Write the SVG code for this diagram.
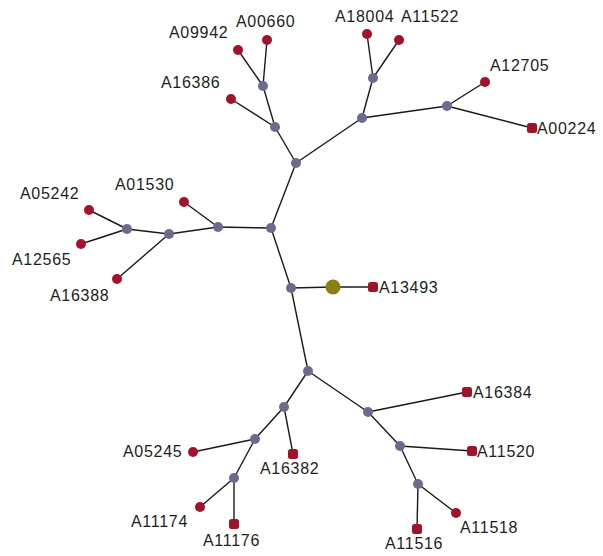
<svg xmlns="http://www.w3.org/2000/svg" width="603" height="556" viewBox="0 0 603 556">
  <style>
    .edge { stroke: #1a1a1a; stroke-width: 1.4; fill: none; }
    .hub { fill: #6b6b90; }
    .leaf { fill: #a1122b; }
    .root { fill: #8c7e10; }
    text { font-family: "Liberation Sans", Arial, sans-serif; font-size: 16px; letter-spacing: 0.7px; fill: #1e1e1e; }
  </style>
  <rect width="603" height="556" fill="#ffffff"/>

  <!-- connectors -->
  <g id="edges" class="edge">
    <!-- trunk -->
    <line x1="271" y1="228" x2="296" y2="163"/>
    <line x1="271" y1="228" x2="291" y2="288"/>
    <line x1="291" y1="288" x2="308" y2="371"/>
    <line x1="291" y1="288" x2="333" y2="287"/>
    <line x1="333" y1="287" x2="373" y2="287"/>
    <!-- upper branch -->
    <line x1="296" y1="163" x2="275" y2="127"/>
    <line x1="275" y1="127" x2="263" y2="86"/>
    <line x1="263" y1="86" x2="238" y2="50"/>
    <line x1="263" y1="86" x2="267" y2="40"/>
    <line x1="275" y1="127" x2="231" y2="99"/>
    <line x1="296" y1="163" x2="362" y2="118"/>
    <line x1="362" y1="118" x2="373" y2="78"/>
    <line x1="373" y1="78" x2="367" y2="34"/>
    <line x1="373" y1="78" x2="399" y2="40"/>
    <line x1="362" y1="118" x2="447" y2="106"/>
    <line x1="447" y1="106" x2="485" y2="82"/>
    <line x1="447" y1="106" x2="532" y2="128"/>
    <!-- left branch -->
    <line x1="271" y1="228" x2="218" y2="227"/>
    <line x1="218" y1="227" x2="184" y2="202"/>
    <line x1="218" y1="227" x2="169" y2="234"/>
    <line x1="169" y1="234" x2="127" y2="229"/>
    <line x1="127" y1="229" x2="89" y2="210"/>
    <line x1="127" y1="229" x2="81" y2="244"/>
    <line x1="169" y1="234" x2="117" y2="279"/>
    <!-- lower branch -->
    <line x1="308" y1="371" x2="284" y2="407"/>
    <line x1="284" y1="407" x2="293" y2="454"/>
    <line x1="284" y1="407" x2="255" y2="439"/>
    <line x1="255" y1="439" x2="193" y2="452"/>
    <line x1="255" y1="439" x2="234" y2="478"/>
    <line x1="234" y1="478" x2="200" y2="507"/>
    <line x1="234" y1="478" x2="234" y2="524"/>
    <line x1="308" y1="371" x2="368" y2="412"/>
    <line x1="368" y1="412" x2="467" y2="392"/>
    <line x1="368" y1="412" x2="400" y2="446"/>
    <line x1="400" y1="446" x2="472" y2="451"/>
    <line x1="400" y1="446" x2="418" y2="484"/>
    <line x1="418" y1="484" x2="456" y2="513"/>
    <line x1="418" y1="484" x2="417" y2="529"/>
  </g>

  <!-- internal nodes -->
  <g id="n-trunk-top"><circle class="hub" cx="296" cy="163" r="5"/></g>
  <g id="n-trunk-left"><circle class="hub" cx="271" cy="228" r="5"/></g>
  <g id="n-trunk-mid"><circle class="hub" cx="291" cy="288" r="5"/></g>
  <g id="n-trunk-low"><circle class="hub" cx="308" cy="371" r="5"/></g>
  <g id="n-up-a"><circle class="hub" cx="275" cy="127" r="5"/></g>
  <g id="n-up-b"><circle class="hub" cx="263" cy="86" r="5"/></g>
  <g id="n-up-c"><circle class="hub" cx="362" cy="118" r="5"/></g>
  <g id="n-up-d"><circle class="hub" cx="373" cy="78" r="5"/></g>
  <g id="n-up-e"><circle class="hub" cx="447" cy="106" r="5"/></g>
  <g id="n-left-a"><circle class="hub" cx="218" cy="227" r="5"/></g>
  <g id="n-left-b"><circle class="hub" cx="169" cy="234" r="5"/></g>
  <g id="n-left-c"><circle class="hub" cx="127" cy="229" r="5"/></g>
  <g id="n-low-a"><circle class="hub" cx="284" cy="407" r="5"/></g>
  <g id="n-low-b"><circle class="hub" cx="255" cy="439" r="5"/></g>
  <g id="n-low-c"><circle class="hub" cx="234" cy="478" r="5"/></g>
  <g id="n-low-d"><circle class="hub" cx="368" cy="412" r="5"/></g>
  <g id="n-low-e"><circle class="hub" cx="400" cy="446" r="5"/></g>
  <g id="n-low-f"><circle class="hub" cx="418" cy="484" r="5"/></g>

  <!-- root -->
  <g id="n-root"><circle class="root" cx="333" cy="287" r="7.5"/></g>

  <!-- leaves -->
  <g id="A09942"><circle class="leaf" cx="238" cy="50" r="5"/><text x="169" y="38">A09942</text></g>
  <g id="A00660"><circle class="leaf" cx="267" cy="40" r="5"/><text x="236" y="27">A00660</text></g>
  <g id="A16386"><circle class="leaf" cx="231" cy="99" r="5"/><text x="161" y="88">A16386</text></g>
  <g id="A18004"><circle class="leaf" cx="367" cy="34" r="5"/><text x="335" y="22">A18004</text></g>
  <g id="A11522"><circle class="leaf" cx="399" cy="40" r="5"/><text x="401" y="22">A11522</text></g>
  <g id="A12705"><circle class="leaf" cx="485" cy="82" r="5"/><text x="490" y="71">A12705</text></g>
  <g id="A00224"><rect class="leaf" x="527" y="123" width="10" height="10" rx="2.5"/><text x="537" y="134">A00224</text></g>
  <g id="A05242"><circle class="leaf" cx="89" cy="210" r="5"/><text x="20" y="199">A05242</text></g>
  <g id="A01530"><circle class="leaf" cx="184" cy="202" r="5"/><text x="115" y="190">A01530</text></g>
  <g id="A12565"><circle class="leaf" cx="81" cy="244" r="5"/><text x="12" y="265">A12565</text></g>
  <g id="A16388"><circle class="leaf" cx="117" cy="279" r="5"/><text x="50" y="301">A16388</text></g>
  <g id="A13493"><rect class="leaf" x="368" y="282" width="10" height="10" rx="2.5"/><text x="379" y="293">A13493</text></g>
  <g id="A16382"><rect class="leaf" x="288" y="449" width="10" height="10" rx="2.5"/><text x="260" y="474">A16382</text></g>
  <g id="A05245"><circle class="leaf" cx="193" cy="452" r="5"/><text x="123" y="457">A05245</text></g>
  <g id="A11174"><circle class="leaf" cx="200" cy="507" r="5"/><text x="131" y="527">A11174</text></g>
  <g id="A11176"><rect class="leaf" x="229" y="519" width="10" height="10" rx="2.5"/><text x="203" y="546">A11176</text></g>
  <g id="A16384"><rect class="leaf" x="462" y="387" width="10" height="10" rx="2.5"/><text x="473" y="398">A16384</text></g>
  <g id="A11520"><rect class="leaf" x="467" y="446" width="10" height="10" rx="2.5"/><text x="477" y="457">A11520</text></g>
  <g id="A11518"><circle class="leaf" cx="456" cy="513" r="5"/><text x="460" y="533">A11518</text></g>
  <g id="A11516"><rect class="leaf" x="412" y="524" width="10" height="10" rx="2.5"/><text x="385" y="549">A11516</text></g>
</svg>
